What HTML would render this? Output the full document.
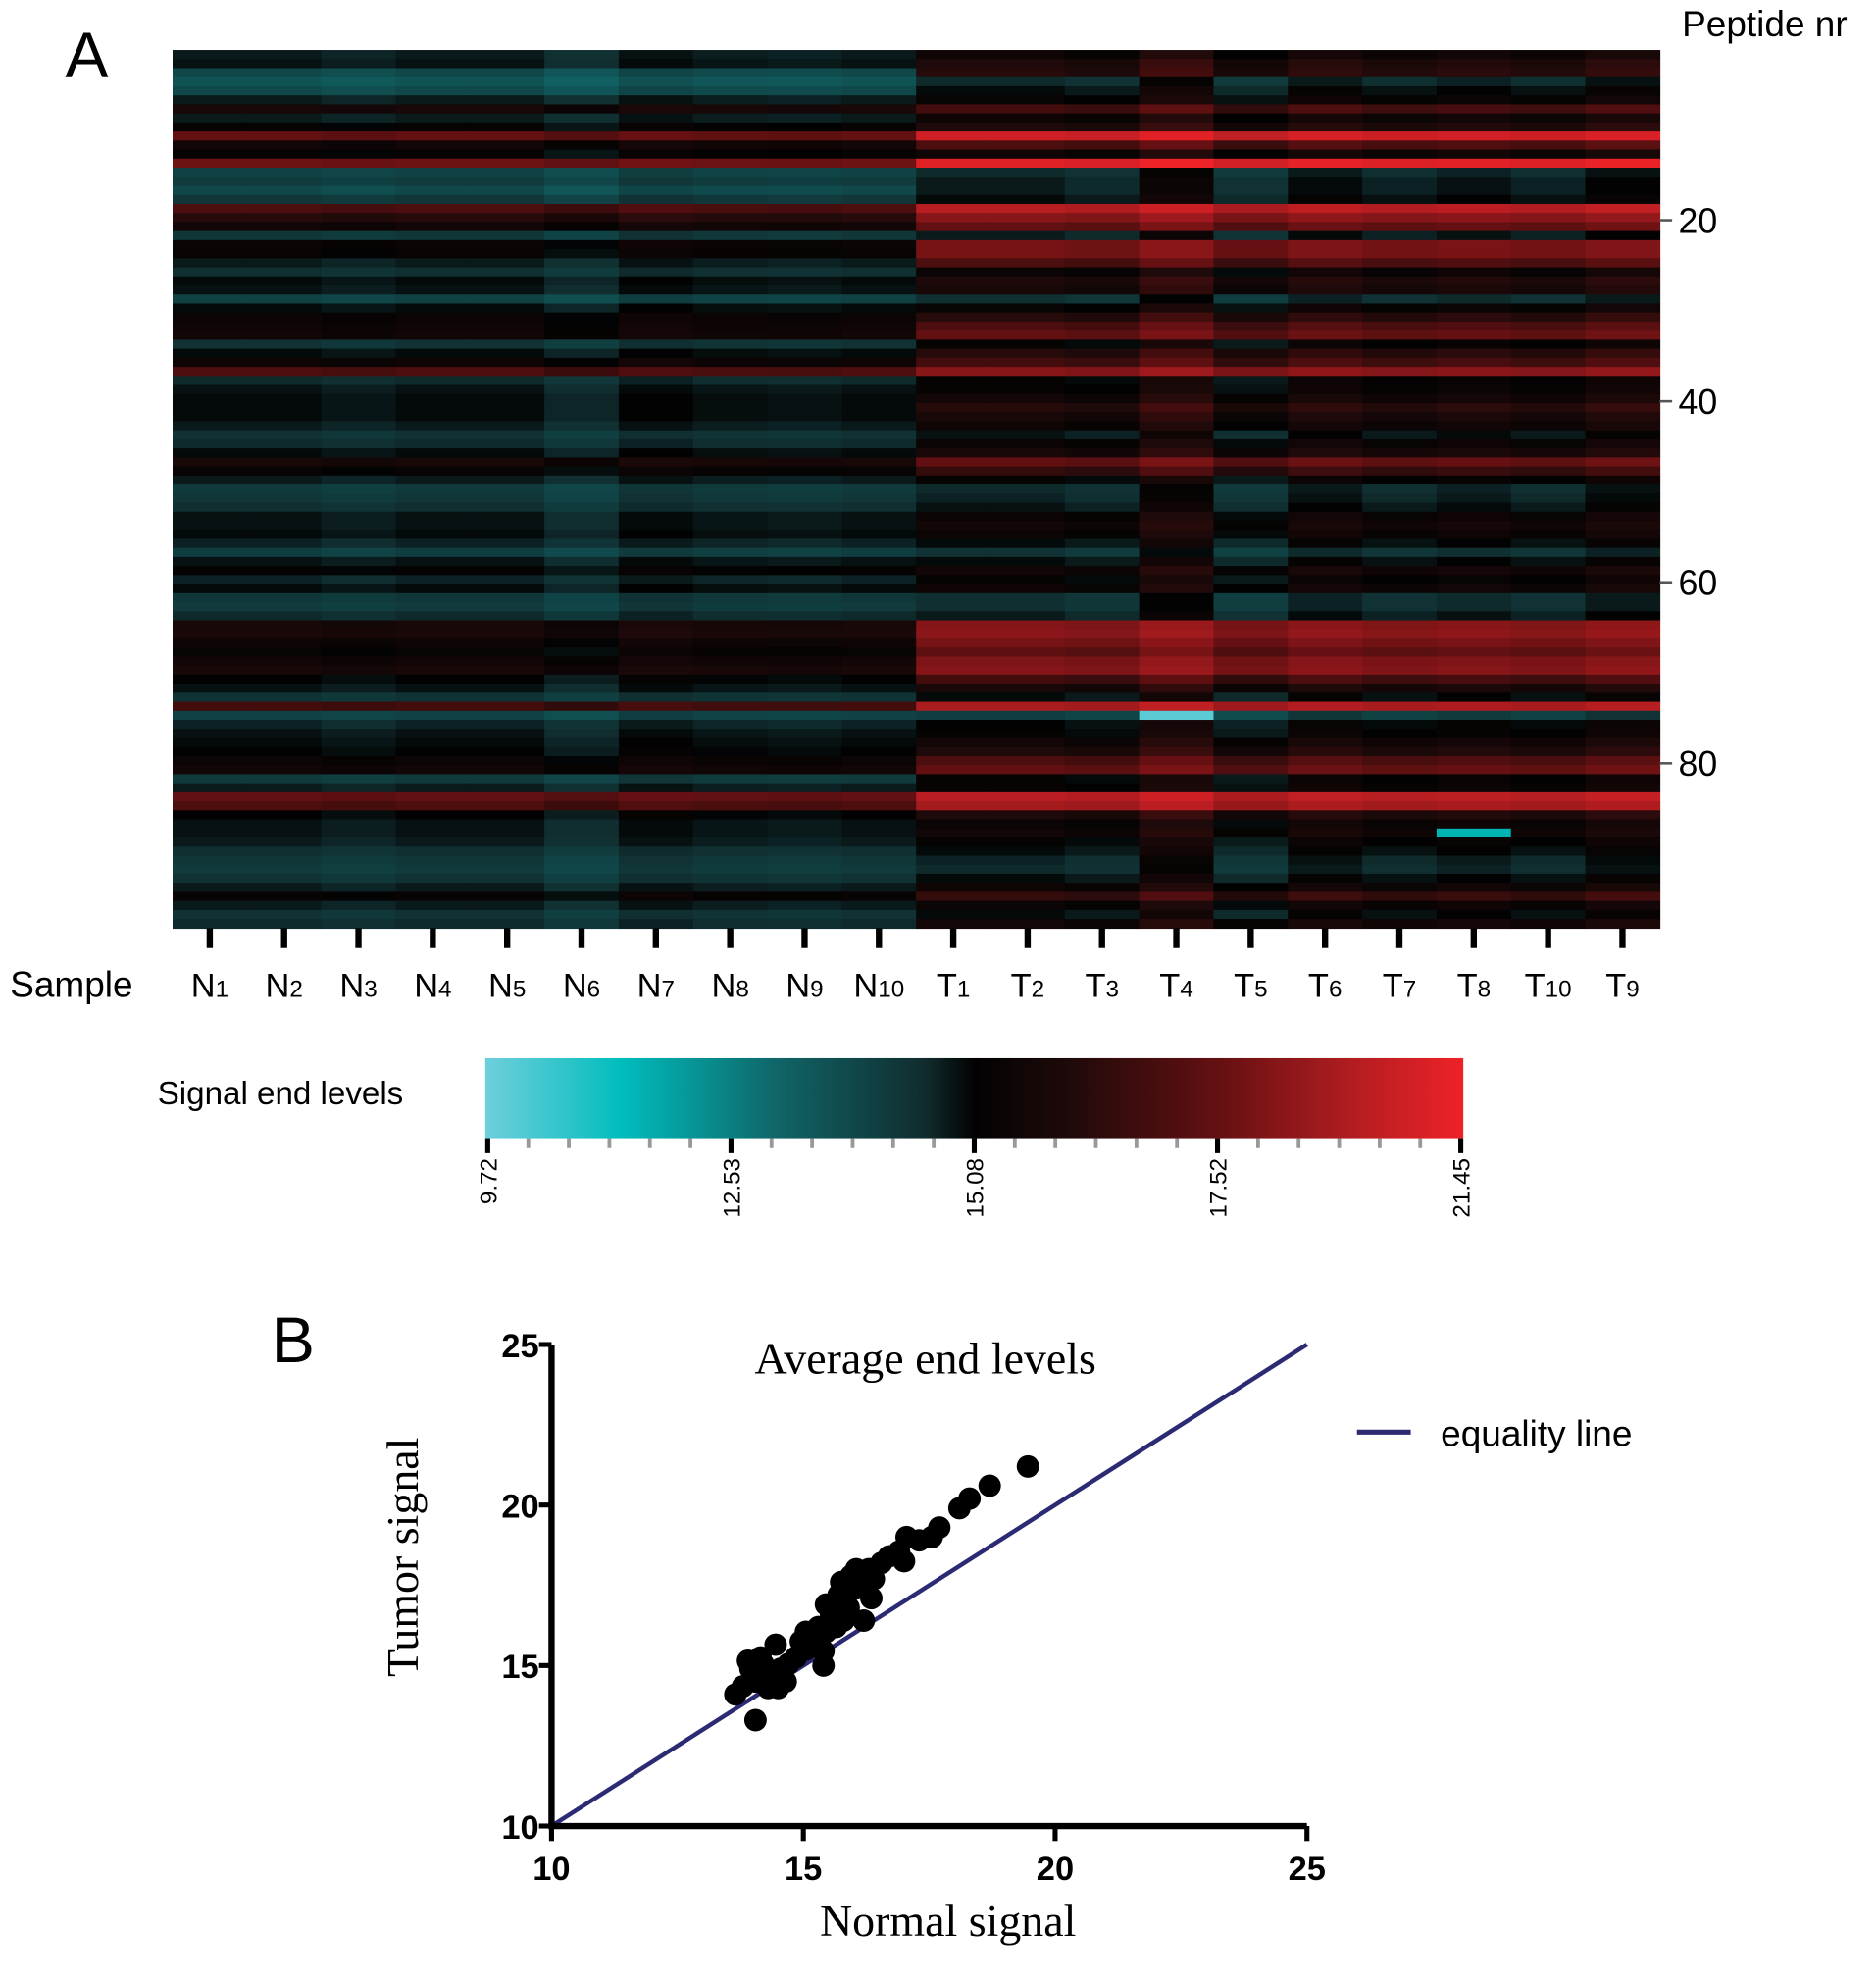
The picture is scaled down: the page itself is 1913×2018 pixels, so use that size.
<!DOCTYPE html>
<html><head><meta charset="utf-8"><style>
html,body{margin:0;padding:0;background:#fff;width:1913px;height:2018px;overflow:hidden}
svg{display:block}
text{font-family:"Liberation Sans",sans-serif}
</style></head><body>
<svg id="fig" width="1913" height="2018" viewBox="0 0 1500 1582.3" xmlns="http://www.w3.org/2000/svg">
<text x="52" y="62" font-size="52">A</text>
<text x="217" y="1089" font-size="52">B</text>
<g id="heat"></g>
<text x="1477" y="29" font-size="29" text-anchor="end">Peptide nr</text>
<text x="8" y="797" font-size="29">Sample</text>
<g id="rticks"></g>
<g id="bticks"></g>
<text x="126" y="883" font-size="26">Signal end levels</text>
<defs><linearGradient id="cg" x1="0" x2="1" y1="0" y2="0"></linearGradient></defs>
<rect x="388" y="846" width="782" height="64" fill="url(#cg)"/>
<g id="cbticks"></g>
<g id="scatter"></g>
<text x="740" y="1098" font-size="36" text-anchor="middle" style="font-family:'Liberation Serif',serif">Average end levels</text>
<text x="758" y="1548" font-size="36" text-anchor="middle" style="font-family:'Liberation Serif',serif">Normal signal</text>
<text transform="translate(334,1245) rotate(-90)" font-size="36" text-anchor="middle" style="font-family:'Liberation Serif',serif">Tumor signal</text>
<line x1="1085" y1="1145" x2="1128" y2="1145" stroke="#2b2a72" stroke-width="4"/>
<text x="1152" y="1156" font-size="29">equality line</text>
</svg>
<script>
const NS="http://www.w3.org/2000/svg";
// ---- heatmap data ----
const sampleLabels=["N|1","N|2","N|3","N|4","N|5","N|6","N|7","N|8","N|9","N|10","T|1","T|2","T|3","T|4","T|5","T|6","T|7","T|8","T|10","T|9"];
const sampleOffsets=[0,0,-0.15,0,0,-0.35,0.1,-0.05,-0.1,0,0,0,-0.2,0.6,-0.4,0.2,-0.1,0.1,-0.1,0.3];
const normalRowLevels=[14.8,14.9,13.8,13.5,13.8,14.8,15.8,14.8,15.2,17.5,15.6,15.2,17.8,14.0,14.2,13.8,14.3,17.0,16.2,15.6,14.3,15.4,15.3,14.8,14.5,15.0,14.9,14.0,15.0,15.4,15.5,15.6,14.4,15.0,15.5,17.0,14.6,14.9,15.0,15.0,15.0,14.8,14.4,14.6,15.0,15.8,15.3,14.8,14.2,14.3,14.5,14.9,14.9,15.0,14.7,14.1,14.9,15.2,14.7,15.0,14.3,14.2,14.6,15.8,15.9,15.5,15.3,15.6,15.8,15.1,14.9,14.4,16.8,14.0,14.7,14.9,15.0,15.1,15.4,15.6,14.2,14.8,17.5,17.0,15.1,14.9,14.9,14.8,14.5,14.3,14.2,14.4,14.8,15.3,14.8,14.4,14.6];
const tumorRowLevels=[15.5,16.0,16.2,14.6,15.0,15.3,16.8,15.5,16.0,20.5,17.0,15.5,21.0,14.6,14.8,14.8,15.0,19.8,18.5,17.5,14.8,18.0,18.0,17.0,15.4,16.0,15.8,14.5,15.3,16.2,17.0,17.5,15.2,16.2,16.8,18.5,15.2,15.3,15.6,16.2,15.8,15.5,14.9,15.4,15.8,17.5,16.5,15.2,14.6,14.7,14.9,15.4,15.6,15.4,15.0,14.4,15.0,15.6,15.2,15.5,14.5,14.5,14.8,18.4,18.6,18.0,17.4,18.2,18.4,16.8,15.8,15.0,19.5,14.1,15.1,15.2,15.6,16.0,17.0,17.5,15.2,15.3,19.9,19.3,16.0,15.4,15.6,15.2,15.0,14.7,14.6,15.0,15.5,16.5,15.4,15.0,15.6];
const outlierCells=[[73,13,10.0],[86,17,11.5]];
const peptideTicks=[20,40,60,80];
const cbTicks=[9.72,12.53,15.08,17.52,21.45];
// ---- scatter data ----
const normalAvg=[19.46,18.7,18.3,18.1,17.7,17.55,17.3,17.05,17.0,16.9,16.7,16.55,16.3,16.35,16.2,16.05,15.95,15.9,16.2,15.7,15.8,15.55,15.45,15.65,15.3,15.2,15.4,15.4,15.05,14.95,14.85,14.7,14.55,14.65,14.45,14.3,14.3,14.2,14.05,13.95,13.9,14.15,13.8,13.65,14.05,14.5,15.05,15.45,15.75,16.05,16.4];
const tumorAvg=[21.2,20.6,20.2,19.9,19.3,19.0,18.9,19.0,18.25,18.55,18.4,18.2,18.0,17.1,17.7,17.4,17.8,16.8,16.4,17.2,16.4,16.6,16.9,16.2,16.2,15.85,15.45,15.0,15.5,15.75,15.25,15.05,14.9,14.5,15.65,14.7,14.3,15.05,14.5,14.9,15.15,15.25,14.35,14.1,13.3,14.3,16.05,16.05,17.6,18.0,17.7];
const xTicks=[10,15,20,25], yTicks=[10,15,20,25];

function valToP(v){for(let i=0;i<cbTicks.length-1;i++){if(v<=cbTicks[i+1]||i==cbTicks.length-2){const t=(v-cbTicks[i])/(cbTicks[i+1]-cbTicks[i]);return Math.max(0,Math.min(1,(i+t)/(cbTicks.length-1)));}}}
const stops=[[0,[111,207,220]],[0.14,[0,189,189]],[0.3,[16,100,102]],[0.45,[16,44,46]],[0.5,[2,2,2]],[0.6,[32,10,10]],[0.75,[100,16,18]],[0.9,[185,30,34]],[1,[238,34,40]]];
function colorP(p){for(let i=0;i<stops.length-1;i++){if(p<=stops[i+1][0]){const t=(p-stops[i][0])/(stops[i+1][0]-stops[i][0]);const c=stops[i][1].map((a,k)=>Math.round(a+(stops[i+1][1][k]-a)*t));return `rgb(${c})`;}}return `rgb(${stops[stops.length-1][1]})`;}
const color=v=>colorP(valToP(v));
const cg=document.getElementById('cg');
stops.forEach(s=>{const st=document.createElementNS(NS,'stop');st.setAttribute('offset',s[0]);st.setAttribute('stop-color',`rgb(${s[1]})`);cg.appendChild(st);});

function mk(tag,attrs,parent){const e=document.createElementNS(NS,tag);for(const k in attrs)e.setAttribute(k,attrs[k]);parent.appendChild(e);return e;}
const HX0=138,HX1=1327,HY0=40,HY1=742;
const nRows=normalRowLevels.length,nCols=sampleLabels.length;
const colW=(HX1-HX0)/nCols,rowH=(HY1-HY0)/nRows;
const xCol=c=>HX0+c*colW, yRow=r=>HY0+r*rowH;
const heat=document.getElementById('heat');
for(let r=0;r<nRows;r++){for(let c=0;c<nCols;c++){
 let v=(c<10?normalRowLevels[r]:tumorRowLevels[r])+sampleOffsets[c];
 outlierCells.forEach(o=>{if(o[0]==r&&o[1]==c)v=o[2];});
 const e=mk('rect',{x:xCol(c),y:yRow(r),width:colW+0.6,height:rowH+0.6,fill:color(v)},heat);
 
 
}}
const rt=document.getElementById('rticks');
peptideTicks.forEach(k=>{const y=yRow(k-1.2);
 const l=mk('line',{x1:HX1,x2:HX1+10,y1:y,y2:y,stroke:'#555','stroke-width':2},rt);
 
 
 const t=mk('text',{x:HX1+15,y:y+10,'font-size':28},rt);t.textContent=k;
 
 
});
const bt=document.getElementById('bticks');
sampleLabels.forEach((s,c)=>{const x=xCol(c+0.5);const [a,b]=s.split('|');
 const l=mk('line',{x1:x,x2:x,y1:HY1,y2:HY1+16,stroke:'#000','stroke-width':5},bt);
 
 
 const t=mk('text',{x:x,y:797,'font-size':27,'text-anchor':'middle'},bt);
 t.innerHTML=a+'<tspan font-size="19" dy="0">'+b+'</tspan>';
 
 
});
const cb=document.getElementById('cbticks');const CX0=390,CX1=1168;
for(let i=0;i<=24;i++){const x=CX0+(CX1-CX0)*i/24;const major=i%6==0;
 const l=mk('line',{x1:x,x2:x,y1:910,y2:major?922:918,stroke:major?'#000':'#999','stroke-width':major?4:3},cb);
 
 
}
cbTicks.forEach(v=>{const x=CX0+(CX1-CX0)*valToP(v);
 const t=mk('text',{transform:`translate(${x+7},926) rotate(-90)`,'font-size':19,'text-anchor':'end'},cb);t.textContent=v.toFixed(2);
 
 
});
const SX0=441,SX1=1045,SY0=1460,SY1=1075;
const sx=v=>SX0+(v-10)/15*(SX1-SX0), sy=v=>SY0-(v-10)/15*(SY0-SY1);
const sc=document.getElementById('scatter');
const eq=mk('line',{x1:sx(10),y1:sy(10),x2:sx(25),y2:sy(25),stroke:'#2b2a72','stroke-width':3.5},sc);


normalAvg.forEach((n,i)=>{const c=mk('circle',{cx:sx(n),cy:sy(tumorAvg[i]),r:9,fill:'#000'},sc);
 
 
});
const ax=mk('path',{d:`M${SX0},${SY1} V${SY0} H${SX1}`,fill:'none',stroke:'#000','stroke-width':5},sc);


xTicks.forEach(v=>{const x=sx(v);
 const l=mk('line',{x1:x,x2:x,y1:SY0,y2:SY0+12,stroke:'#000','stroke-width':4},sc);
 
 
 const t=mk('text',{x:x,y:1503,'font-size':27,'font-weight':'bold','text-anchor':'middle'},sc);t.textContent=v;
 
 
});
yTicks.forEach(v=>{const y=sy(v);
 const l=mk('line',{x1:SX0-10,x2:SX0,y1:y,y2:y,stroke:'#000','stroke-width':4},sc);
 
 
 const t=mk('text',{x:SX0-10,y:y+10,'font-size':27,'font-weight':'bold','text-anchor':'end'},sc);t.textContent=v;
 
 
});
</script>
</body></html>
